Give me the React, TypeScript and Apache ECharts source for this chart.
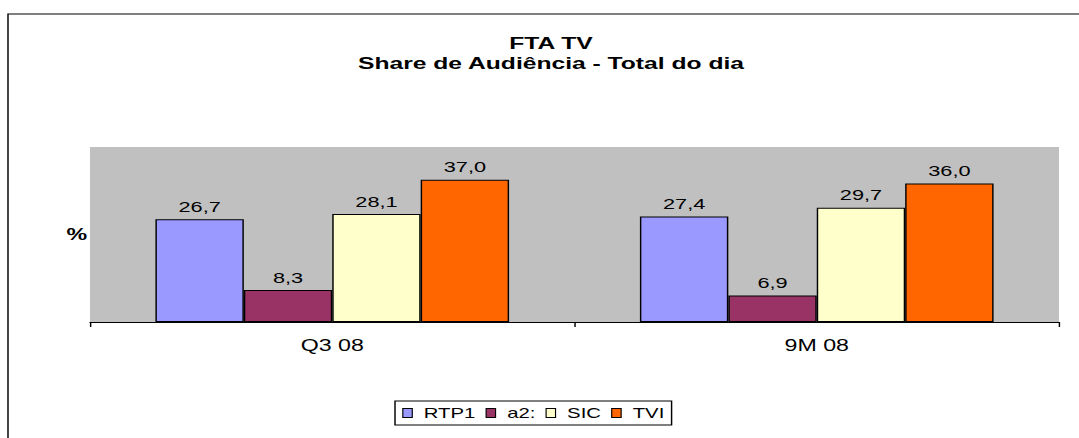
import React, { useEffect, useRef } from "react";
import * as echarts from "echarts";

const categories = ["Q3 08", "9M 08"];
const seriesNames = ["RTP1", "a2:", "SIC", "TVI"];
const rtp1 = [26.7, 27.4];
const a2 = [8.3, 6.9];
const sic = [28.1, 29.7];
const tvi = [37.0, 36.0];
const colors = ["#9999ff", "#993366", "#ffffcc", "#ff6600"];
const titleLines = ["FTA TV", "Share de Audiência - Total do dia"];
const yAxisName = "%";

// The reference image is horizontally stretched; render narrower and stretch.
const W = 744;
const H = 438;
const S = 1079 / W;
const FONT = "'Liberation Sans', Arial, Helvetica, sans-serif";

export default function App() {
  const ref = useRef<HTMLDivElement>(null);

  useEffect(() => {
    if (!ref.current) return;
    const chart = echarts.init(ref.current, null, { renderer: "svg" });
    const values = [rtp1, a2, sic, tvi];
    const fmt = (p: any) => Number(p.value).toFixed(1).replace(".", ",");

    chart.setOption({
      animation: false,
      backgroundColor: "#ffffff",
      title: {
        text: titleLines.join("\n"),
        left: 551 / S,
        textAlign: "center",
        top: 33,
        padding: 0,
        textStyle: {
          fontFamily: FONT,
          fontSize: 17,
          fontWeight: "bold",
          lineHeight: 20,
          color: "#000",
        },
      },
      graphic: [
        {
          type: "rect",
          z: -1,
          shape: { x: 8 / S, y: 14, width: W + 50, height: H + 50 },
          style: { fill: "none", stroke: "#000", lineWidth: 1 },
          silent: true,
        },
      ],
      legend: {
        data: seriesNames,
        left: 395 / S,
        top: 401,
        orient: "horizontal",
        itemWidth: 6.5,
        itemHeight: 9,
        itemGap: 7,
        padding: [5, 5, 5, 5],
        borderColor: "#000",
        borderWidth: 1,
        backgroundColor: "#fff",
        icon: "rect",
        itemStyle: { borderColor: "#000", borderWidth: 0.8 },
        textStyle: {
          fontFamily: FONT,
          fontSize: 14,
          color: "#000",
          padding: [0, 0, 0, 3],
        },
      },
      grid: {
        left: 90 / S,
        right: 20 / S,
        top: 147,
        bottom: 116,
        show: true,
        backgroundColor: "#c0c0c0",
        borderWidth: 0,
        containLabel: false,
      },
      xAxis: {
        type: "category",
        data: categories,
        boundaryGap: true,
        axisLine: { show: true, lineStyle: { color: "#000", width: 1 } },
        axisTick: { show: true, alignWithLabel: false, length: 5, lineStyle: { color: "#000" } },
        axisLabel: { fontFamily: FONT, fontSize: 16, color: "#000", margin: 15 },
        splitLine: { show: false },
      },
      yAxis: {
        type: "value",
        min: 0,
        max: 45.5,
        name: yAxisName,
        nameLocation: "middle",
        nameRotate: 0,
        nameGap: 2,
        nameTextStyle: { fontFamily: FONT, fontSize: 16, fontWeight: "bold", color: "#000" },
        axisLine: { show: false },
        axisTick: { show: false },
        axisLabel: { show: false },
        splitLine: { show: false },
      },
      series: seriesNames.map((name, i) => ({
        name,
        type: "bar",
        data: values[i],
        barGap: "0%",
        barCategoryGap: "27%",
        itemStyle: { color: colors[i], borderColor: "#000", borderWidth: 1 },
        label: {
          show: true,
          position: "top",
          distance: 5,
          formatter: fmt,
          fontFamily: FONT,
          fontSize: 15,
          color: "#000",
        },
      })),
    });

    return () => chart.dispose();
  }, []);

  return (
    <div
      ref={ref}
      style={{
        position: "absolute",
        left: 0,
        top: 0,
        width: W,
        height: H,
        transform: `scaleX(${S})`,
        transformOrigin: "0 0",
      }}
    />
  );
}
